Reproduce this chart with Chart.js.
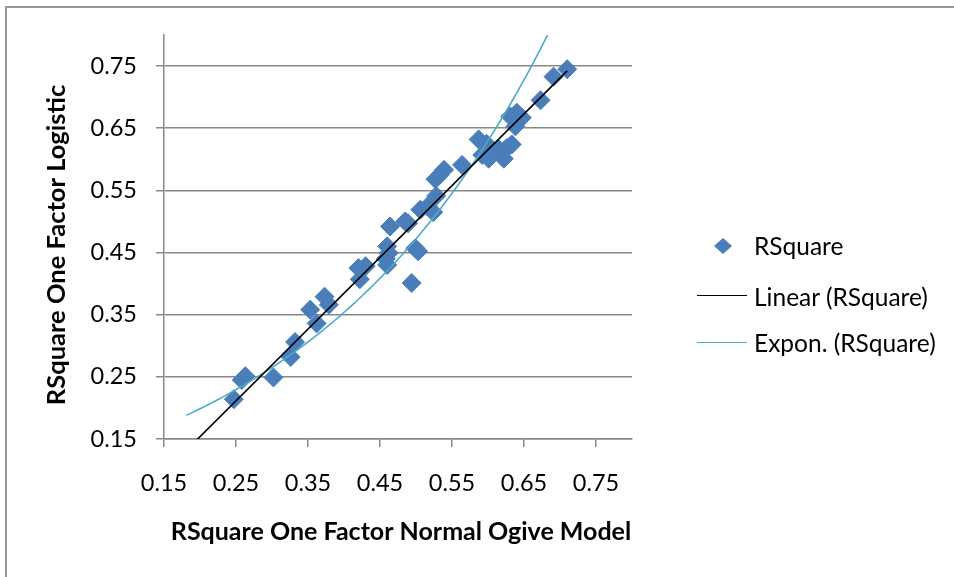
<!DOCTYPE html>
<html>
<head>
<meta charset="utf-8">
<script src="https://cdn.jsdelivr.net/npm/chart.js@4.4.1/dist/chart.umd.min.js"></script>
<style>
html,body{margin:0;padding:0;background:#fff;}
#wrap{position:relative;width:954px;height:577px;overflow:hidden;font-family:Lato,"Liberation Sans",sans-serif;}
#frame{position:absolute;left:5px;top:6px;width:980px;height:600px;border-left:2px solid #979797;border-top:2px solid #979797;}
canvas{position:absolute;left:0;top:0;}
.row{position:absolute;height:28px;display:flex;align-items:center;font-size:24.5px;color:#000;white-space:nowrap;}
.diamond{position:absolute;width:18px;height:16px;background:#4A7EBB;clip-path:polygon(50% 0,100% 50%,50% 100%,0 50%);}
.lline{position:absolute;width:50px;height:0;}
</style>
</head>
<body>
<div id="wrap">
  <div id="frame"></div>
  <canvas id="c" width="954" height="577"></canvas>
  <div class="diamond" style="left:714px;top:238px;"></div>
  <div class="row" style="left:754px;top:231px;">RSquare</div>
  <div class="lline" style="left:697px;top:295px;border-top:1.5px solid #000;"></div>
  <div class="row" style="left:754px;top:282px;">Linear (RSquare)</div>
  <div class="lline" style="left:697px;top:342px;border-top:1.5px solid #4BACC6;"></div>
  <div class="row" style="left:754px;top:328px;">Expon. (RSquare)</div>
</div>
<script>
// ---- data ----
const X_VALUES = [0.247,0.258,0.263,0.302,0.326,0.332,0.353,0.362,0.373,0.379,
                  0.420,0.430,0.422,0.458,0.460,0.462,0.460,0.464,0.485,0.489,
                  0.494,0.499,0.503,0.506,0.516,0.524,0.528,0.527,0.533,0.539,
                  0.564,0.587,0.598,0.592,0.601,0.615,0.622,0.626,0.633,0.631,
                  0.640,0.647,0.638,0.673,0.691,0.710];
const Y_VALUES = [0.214,0.245,0.251,0.249,0.282,0.306,0.358,0.336,0.379,0.366,
                  0.425,0.428,0.407,0.440,0.460,0.449,0.430,0.492,0.500,0.497,
                  0.401,0.457,0.452,0.519,0.524,0.515,0.541,0.568,0.575,0.583,
                  0.591,0.632,0.625,0.607,0.601,0.616,0.601,0.618,0.624,0.669,
                  0.675,0.667,0.653,0.695,0.733,0.745];
const X_TICKS = [0.15,0.25,0.35,0.45,0.55,0.65,0.75];
const Y_TICKS = [0.15,0.25,0.35,0.45,0.55,0.65,0.75];
const AXIS_RANGE = [0.15, 0.8];
// trendline coefficients as shown in the picture
const LINEAR_FIT = [1.154, -0.0771];      // slope, intercept
const EXPON_FIT  = [0.1115, 2.886];       // y = a * e^(b x)
const TREND_RANGE = [0.181, 0.710];
const SERIES_NAMES = ['RSquare','Linear (RSquare)','Expon. (RSquare)'];
const X_TITLE = 'RSquare One Factor Normal Ogive Model';
const Y_TITLE = 'RSquare One Factor Logistic';

const points = X_VALUES.map((x,i)=>({x, y:Y_VALUES[i]}));
const linPts = TREND_RANGE.map(x=>({x, y:LINEAR_FIT[0]*x+LINEAR_FIT[1]}));
const expPts = [];
for (let k=0;k<=120;k++){
  const x = TREND_RANGE[0] + (TREND_RANGE[1]-TREND_RANGE[0])*k/120;
  expPts.push({x, y:EXPON_FIT[0]*Math.exp(EXPON_FIT[1]*x)});
}

const GREY = '#888888';
const tickFont = {family:'Lato', size:23.5};

const axisTitles = {
  id:'axisTitles',
  afterDraw(chart){
    const ctx = chart.ctx;
    ctx.save();
    ctx.fillStyle = '#000';
    ctx.textAlign = 'center';
    ctx.textBaseline = 'middle';
    ctx.font = 'bold 25px Lato';
    ctx.fillText(X_TITLE, 401, 532);
    ctx.font = 'bold 25.5px Lato';
    ctx.translate(57, 245);
    ctx.rotate(-Math.PI/2);
    ctx.fillText(Y_TITLE, 0, 0);
    ctx.restore();
  }
};

new Chart(document.getElementById('c'), {
  type:'scatter',
  data:{datasets:[
    {label:SERIES_NAMES[1], data:linPts, showLine:true, borderColor:'#000', borderWidth:1.6, pointRadius:0, order:1},
    {label:SERIES_NAMES[2], data:expPts, showLine:true, borderColor:'#4BACC6', borderWidth:1.6, pointRadius:0, order:2},
    {label:SERIES_NAMES[0], data:points, pointStyle:'rectRot', pointRadius:9.5, backgroundColor:'#4A7EBB', borderColor:'#4A7EBB', borderWidth:1, order:3}
  ]},
  options:{
    responsive:false, animation:false, devicePixelRatio:1, events:[],
    layout:{padding:{left:0, top:35, right:322, bottom:0}},
    plugins:{legend:{display:false}, tooltip:{enabled:false}},
    scales:{
      x:{type:'linear', min:AXIS_RANGE[0], max:AXIS_RANGE[1],
        afterBuildTicks:s=>{s.ticks = X_TICKS.map(v=>({value:v}));},
        afterFit:s=>{s.height = 138;},
        grid:{drawOnChartArea:false, drawTicks:true, tickLength:8, color:GREY, lineWidth:1.5},
        border:{display:true, color:GREY, width:1.5},
        ticks:{font:tickFont, color:'#000', padding:22, maxRotation:0, autoSkip:false, callback:v=>Number(v).toFixed(2)}
      },
      y:{type:'linear', min:AXIS_RANGE[0], max:AXIS_RANGE[1],
        afterBuildTicks:s=>{s.ticks = Y_TICKS.map(v=>({value:v}));},
        afterFit:s=>{s.width = 164;},
        grid:{drawOnChartArea:true, drawTicks:true, tickLength:8, color:GREY, lineWidth:1.5},
        border:{display:true, color:GREY, width:1.5},
        ticks:{font:tickFont, color:'#000', padding:19, autoSkip:false, callback:v=>Number(v).toFixed(2)}
      }
    }
  },
  plugins:[axisTitles]
});
</script>
</body>
</html>
